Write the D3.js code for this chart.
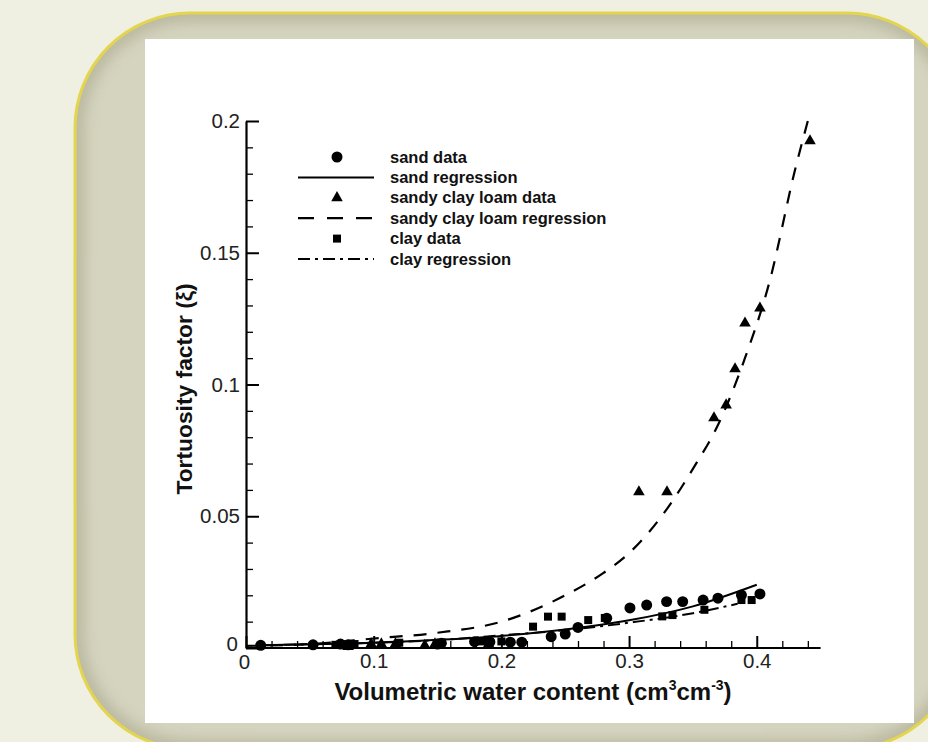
<!DOCTYPE html>
<html><head><meta charset="utf-8">
<script src="https://cdn.jsdelivr.net/npm/d3@7"></script>
<style>html,body{margin:0;padding:0;background:#f0f0e2;}svg{display:block;}</style>
</head><body>
<svg id="chart" width="928" height="742"></svg>
<script>
// ---------- data ----------
const sandX = [0.0115,0.0525,0.074,0.080,0.150,0.153,0.179,0.191,0.207,0.216,0.239,0.250,0.260,0.2825,0.3007,0.3138,0.3294,0.342,0.358,0.3696,0.388,0.4025];
const sandY = [0.0010,0.0012,0.0015,0.0012,0.0015,0.0018,0.0024,0.0023,0.0022,0.0022,0.0043,0.0053,0.0078,0.0113,0.0152,0.0163,0.0176,0.0176,0.0182,0.0189,0.0201,0.0205];

const sclX = [0.080,0.098,0.106,0.117,0.140,0.148,0.190,0.3077,0.3297,0.3665,0.376,0.383,0.3908,0.4025,0.4417];
const sclY = [0.0005,0.0015,0.0015,0.0015,0.0010,0.0015,0.0015,0.0592,0.0592,0.0873,0.0922,0.1059,0.1233,0.1290,0.1924];

const clayX = [0.070,0.085,0.120,0.185,0.200,0.2248,0.2365,0.2472,0.268,0.281,0.326,0.334,0.359,0.388,0.396];
const clayY = [0.0012,0.0015,0.0020,0.0025,0.0025,0.0081,0.0119,0.0119,0.0106,0.0114,0.0120,0.0125,0.0145,0.0182,0.0182];

const sandRegX = [0.01,0.05,0.10,0.15,0.20,0.25,0.30,0.35,0.40];
const sandRegY = [0.0010,0.0014,0.0020,0.0031,0.0046,0.0070,0.0105,0.0158,0.0240];

const sclRegX = [0.0,0.05,0.10,0.15,0.20,0.25,0.28,0.30,0.33,0.35,0.37,0.39,0.41,0.43,0.44];
const sclRegY = [0.0008,0.0015,0.0036,0.0058,0.0100,0.0200,0.0285,0.0360,0.0530,0.0680,0.0850,0.1090,0.1390,0.1815,0.2000];

const clayRegX = [0.01,0.05,0.10,0.15,0.20,0.25,0.30,0.35,0.385];
const clayRegY = [0.0010,0.0014,0.0020,0.0030,0.0048,0.0068,0.0096,0.0132,0.0168];

const xMajor = [0,0.1,0.2,0.3,0.4];
const xMajorLabels = ["0","0.1","0.2","0.3","0.4"];
const xMinor = [0.02,0.04,0.06,0.08,0.12,0.14,0.16,0.18,0.22,0.24,0.26,0.28,0.32,0.34,0.36,0.38,0.42,0.44];
const yMajor = [0,0.05,0.1,0.15,0.2];
const yMajorLabels = ["0","0.05","0.1","0.15","0.2"];
const yMinor = [0.01,0.02,0.03,0.04,0.06,0.07,0.08,0.09,0.11,0.12,0.13,0.14,0.16,0.17,0.18,0.19];

const legendLabels = ["sand data","sand regression","sandy clay loam data","sandy clay loam regression","clay data","clay regression"];
const xTitle = ["Volumetric water content (cm","3","cm","-3",")"];
const yTitle = "Tortuosity factor (\u03BE)";

// ---------- drawing ----------
const svg = d3.select("#chart");
const defs = svg.append("defs");
const frame = {x:75, y:13, w:887, h:736, r:115};

defs.append("clipPath").attr("id","frameClip").append("rect")
  .attr("x",frame.x).attr("y",frame.y).attr("width",frame.w).attr("height",frame.h)
  .attr("rx",frame.r).attr("ry",frame.r);
const blur = defs.append("filter").attr("id","soft").attr("x","-20%").attr("y","-20%").attr("width","140%").attr("height","140%");
blur.append("feGaussianBlur").attr("stdDeviation",7);

svg.append("rect").attr("width",928).attr("height",742).attr("fill","#f0f0e2");
svg.append("rect")
  .attr("x",frame.x).attr("y",frame.y).attr("width",frame.w).attr("height",frame.h)
  .attr("rx",frame.r).attr("ry",frame.r).attr("fill","#d5d4bf");
svg.append("g").attr("clip-path","url(#frameClip)")
  .append("rect")
  .attr("x",frame.x).attr("y",frame.y).attr("width",frame.w).attr("height",frame.h)
  .attr("rx",frame.r).attr("ry",frame.r)
  .attr("fill","none").attr("stroke","#aeac92").attr("stroke-width",18)
  .attr("filter","url(#soft)").attr("opacity",0.7);
svg.append("rect")
  .attr("x",frame.x).attr("y",frame.y).attr("width",frame.w).attr("height",frame.h)
  .attr("rx",frame.r).attr("ry",frame.r)
  .attr("fill","none").attr("stroke","#e3d54e").attr("stroke-width",3);

// white panel
svg.append("rect").attr("x",145).attr("y",39).attr("width",769).attr("height",684).attr("fill","#ffffff");

const x = d3.scaleLinear().domain([0,0.45]).range([246,820.6]);
const y = d3.scaleLinear().domain([0,0.2]).range([648,121]);

const tickFont = "'Liberation Sans', Arial, sans-serif";

// minor ticks
svg.append("g").attr("transform",`translate(${x(0)},0)`)
  .call(d3.axisLeft(y).tickValues(yMinor).tickSize(-7).tickFormat("").tickSizeOuter(0))
  .call(g=>g.select(".domain").remove())
  .call(g=>g.selectAll("line").attr("stroke","#000").attr("stroke-width",1.3));
svg.append("g").attr("transform",`translate(0,${y(0)})`)
  .call(d3.axisBottom(x).tickValues(xMinor).tickSize(-7).tickFormat("").tickSizeOuter(0))
  .call(g=>g.select(".domain").remove())
  .call(g=>g.selectAll("line").attr("stroke","#000").attr("stroke-width",1.3));

// major axes
const yAxis = svg.append("g").attr("transform",`translate(${x(0)},0)`)
  .call(d3.axisLeft(y).tickValues(yMajor).tickSize(-13).tickSizeOuter(0).tickPadding(6)
    .tickFormat((d,i)=>yMajorLabels[i]));
yAxis.select(".domain").attr("stroke","#000").attr("stroke-width",2.2);
yAxis.selectAll("line").attr("stroke","#000").attr("stroke-width",2);
yAxis.selectAll("text").attr("font-family",tickFont).attr("font-size",20.5).attr("fill","#222");

const xAxis = svg.append("g").attr("transform",`translate(0,${y(0)})`)
  .call(d3.axisBottom(x).tickValues(xMajor).tickSize(-12).tickSizeOuter(0).tickPadding(5)
    .tickFormat((d,i)=>xMajorLabels[i]));
xAxis.select(".domain").attr("stroke","#000").attr("stroke-width",2.2)
  .attr("d",`M${x(0)},0H${x(0.45)}`);
xAxis.selectAll("line").attr("stroke","#000").attr("stroke-width",2);
xAxis.selectAll("text").attr("font-family",tickFont).attr("font-size",20.5).attr("fill","#222");
xAxis.selectAll(".tick text").filter((d)=>d===0).attr("x",-2).attr("dy","0.78em");
yAxis.selectAll(".tick text").filter((d)=>d===0).attr("x",-8).attr("dy","0.1em");

// axis titles
const xt = svg.append("text").attr("x",533).attr("y",700).attr("text-anchor","middle")
  .attr("font-family",tickFont).attr("font-weight","bold").attr("font-size",24).attr("fill","#111");
xt.append("tspan").text(xTitle[0]);
xt.append("tspan").attr("dy",-10).attr("font-size",14).text(xTitle[1]);
xt.append("tspan").attr("dy",10).text(xTitle[2]);
xt.append("tspan").attr("dy",-10).attr("font-size",14).text(xTitle[3]);
xt.append("tspan").attr("dy",10).text(xTitle[4]);

svg.append("text").attr("transform","translate(192,389) rotate(-90)").attr("text-anchor","middle")
  .attr("font-family",tickFont).attr("font-weight","bold").attr("font-size",22.8).attr("fill","#111")
  .text(yTitle);

// lines
const mkLine = (xs,ys)=>d3.line().x((d,i)=>x(xs[i])).y((d,i)=>y(ys[i])).curve(d3.curveMonotoneX)(xs);
const plot = svg.append("g");
plot.append("path").attr("d",mkLine(sandRegX,sandRegY)).attr("fill","none").attr("stroke","#000").attr("stroke-width",2);
plot.append("path").attr("d",mkLine(sclRegX,sclRegY)).attr("fill","none").attr("stroke","#000").attr("stroke-width",2.2).attr("stroke-dasharray","13,11");
plot.append("path").attr("d",mkLine(clayRegX,clayRegY)).attr("fill","none").attr("stroke","#000").attr("stroke-width",2).attr("stroke-dasharray","12,5,3,5");

// markers
const circleSym = d3.symbol().type(d3.symbolCircle).size(95);
const triSym = d3.symbol().type(d3.symbolTriangle).size(58);
const sqSym = d3.symbol().type(d3.symbolSquare).size(64);
plot.selectAll(".clay").data(clayX).join("path").attr("class","clay")
  .attr("d",sqSym).attr("transform",(d,i)=>`translate(${x(d)},${y(clayY[i])})`).attr("fill","#000");
plot.selectAll(".sand").data(sandX).join("path").attr("class","sand")
  .attr("d",circleSym).attr("transform",(d,i)=>`translate(${x(d)},${y(sandY[i])})`).attr("fill","#000");
plot.selectAll(".scl").data(sclX).join("path").attr("class","scl")
  .attr("d",triSym).attr("transform",(d,i)=>`translate(${x(d)},${y(sclY[i])})`).attr("fill","#000");

// legend
const leg = svg.append("g");
const rowY = i => 157 + i*20.4;
const lx0 = 298, lx1 = 374, lxm = 337, ltx = 390;
legendLabels.forEach((lab,i)=>{
  leg.append("text").attr("x",ltx).attr("y",rowY(i)+5.5)
    .attr("font-family",tickFont).attr("font-weight","bold").attr("font-size",16.5).attr("fill","#111").text(lab);
});
leg.append("path").attr("d",circleSym).attr("transform",`translate(${lxm},${rowY(0)})`).attr("fill","#000");
leg.append("line").attr("x1",lx0).attr("x2",lx1).attr("y1",rowY(1)).attr("y2",rowY(1)).attr("stroke","#000").attr("stroke-width",2);
leg.append("path").attr("d",triSym).attr("transform",`translate(${lxm},${rowY(2)})`).attr("fill","#000");
leg.append("line").attr("x1",lx0).attr("x2",lx1).attr("y1",rowY(3)).attr("y2",rowY(3)).attr("stroke","#000").attr("stroke-width",2.2).attr("stroke-dasharray","16,13");
leg.append("path").attr("d",sqSym).attr("transform",`translate(${lxm},${rowY(4)})`).attr("fill","#000");
leg.append("line").attr("x1",lx0).attr("x2",lx1).attr("y1",rowY(5)).attr("y2",rowY(5)).attr("stroke","#000").attr("stroke-width",2).attr("stroke-dasharray","12,5,3,5");
</script>
</body></html>
